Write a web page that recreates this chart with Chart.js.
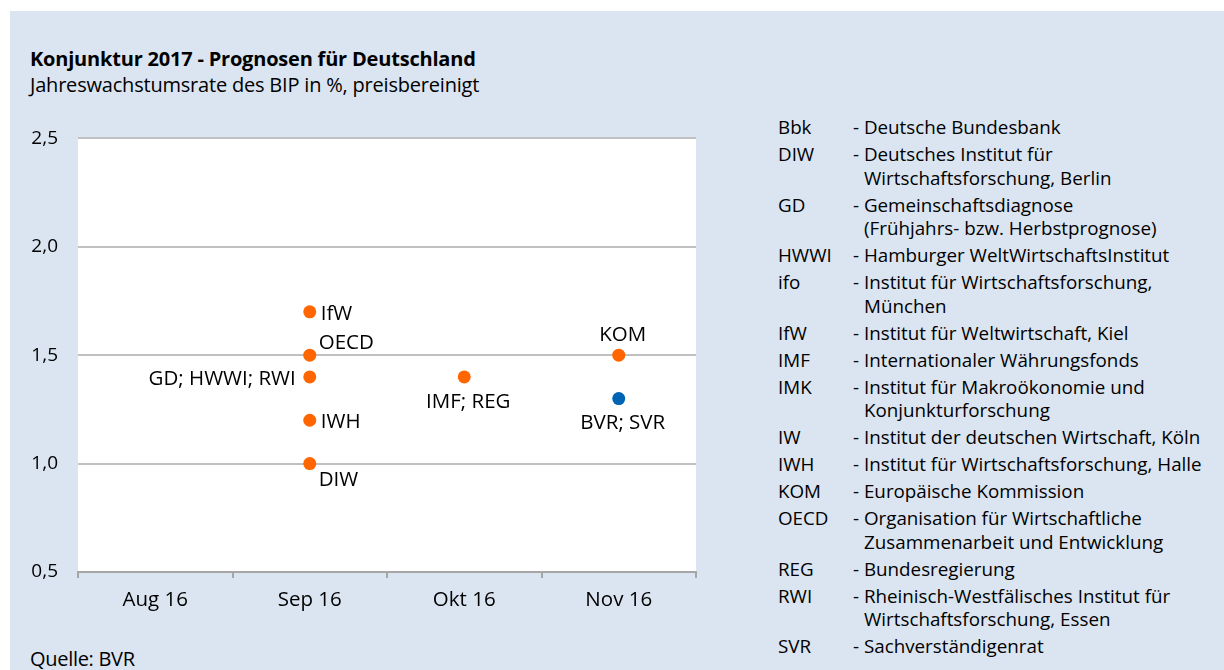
<!DOCTYPE html>
<html>
<head>
<meta charset="utf-8">
<script src="https://cdn.jsdelivr.net/npm/chart.js@4"></script>
<style>
  body { margin: 0; background: #fff; width: 1224px; height: 670px; overflow: hidden; font-family: "Open Sans", sans-serif; color: #000; }
  #panel { position: absolute; left: 10px; top: 11px; width: 1214px; height: 659px; background: #dbe5f1; }
  #title { position: absolute; left: 30px; top: 45px; font-size: 20px; font-weight: bold; letter-spacing: -0.2px; }
  #subtitle { position: absolute; left: 30px; top: 71px; font-size: 20px; letter-spacing: -0.2px; }
  #source { position: absolute; left: 30px; top: 645px; font-size: 20px; letter-spacing: -0.3px; }
  #chart { position: absolute; left: 10px; top: 107px; }
  #legend { position: absolute; left: 778px; top: 116px; font-size: 18.8px; line-height: 23.5px; }
  #legend .row { display: flex; margin-bottom: 3.5px; }
  #legend .abbr { width: 75px; }
  #legend .desc { width: 380px; padding-left: 11px; text-indent: -11px; }
</style>
</head>
<body>
<div id="panel"></div>
<div id="title">Konjunktur 2017 - Prognosen für Deutschland</div>
<div id="subtitle">Jahreswachstumsrate des BIP in %, preisbereinigt</div>
<canvas id="chart" width="710" height="513"></canvas>
<div id="legend"></div>
<div id="source">Quelle: BVR</div>
<script>
// x categories and y ticks
const months = ['Aug 16', 'Sep 16', 'Okt 16', 'Nov 16'];
const yTicks = [0.5, 1.0, 1.5, 2.0, 2.5];

// orange forecasts
const orangeMonths = ['Sep 16', 'Sep 16', 'Sep 16', 'Sep 16', 'Sep 16', 'Okt 16', 'Nov 16'];
const orangeValues = [1.7, 1.5, 1.4, 1.2, 1.0, 1.4, 1.5];
const orangeNames = ['IfW', 'OECD', 'GD; HWWI; RWI', 'IWH', 'DIW', 'IMF; REG', 'KOM'];
const orangePlace = ['right', 'aboveRight', 'left', 'right', 'belowRight', 'below', 'above'];

// blue forecast (BVR)
const blueMonths = ['Nov 16'];
const blueValues = [1.3];
const blueNames = ['BVR; SVR'];
const bluePlace = ['below'];

// abbreviations on the right
const legendAbbr = ['Bbk', 'DIW', 'GD', 'HWWI', 'ifo', 'IfW', 'IMF', 'IMK', 'IW', 'IWH', 'KOM', 'OECD', 'REG', 'RWI', 'SVR'];
const legendText = [
    '- Deutsche Bundesbank',
    '- Deutsches Institut für<br>Wirtschaftsforschung, Berlin',
    '- Gemeinschaftsdiagnose<br>(Frühjahrs- bzw. Herbstprognose)',
    '- Hamburger WeltWirtschaftsInstitut',
    '- Institut für Wirtschaftsforschung,<br>München',
    '- Institut für Weltwirtschaft, Kiel',
    '- Internationaler Währungsfonds',
    '- Institut für Makroökonomie und<br>Konjunkturforschung',
    '- Institut der deutschen Wirtschaft, Köln',
    '- Institut für Wirtschaftsforschung, Halle',
    '- Europäische Kommission',
    '- Organisation für Wirtschaftliche<br>Zusammenarbeit und Entwicklung',
    '- Bundesregierung',
    '- Rheinisch-Westfälisches Institut für<br>Wirtschaftsforschung, Essen',
    '- Sachverständigenrat'
];

let html = '';
legendAbbr.forEach((a, i) => {
    html += `<div class="row"><div class="abbr">${a}</div><div class="desc">${legendText[i]}</div></div>`;
});
document.getElementById('legend').innerHTML = html;

const FONT = '"Open Sans", sans-serif';

// white plot area
const plotBg = {
    id: 'plotBg',
    beforeDraw(chart) {
        const a = chart.chartArea;
        chart.ctx.save();
        chart.ctx.fillStyle = '#fff';
        chart.ctx.fillRect(a.left, a.top, a.right - a.left, a.bottom - a.top);
        chart.ctx.restore();
    }
};

// point labels, placed around each marker
const pointLabels = {
    id: 'pointLabels',
    afterDatasetsDraw(chart) {
        const ctx = chart.ctx;
        ctx.save();
        ctx.font = '20.5px ' + FONT;
        ctx.fillStyle = '#000';
        ctx.textBaseline = 'middle';
        chart.data.datasets.forEach((ds, di) => {
            const meta = chart.getDatasetMeta(di);
            meta.data.forEach((pt, i) => {
                const name = ds.names[i];
                const place = ds.places[i];
                let x = pt.x, y = pt.y;
                if (place === 'right') { ctx.textAlign = 'left'; x += 11; y += 2; }
                else if (place === 'aboveRight') { ctx.textAlign = 'left'; x += 9; y -= 12; }
                else if (place === 'left') { ctx.textAlign = 'right'; x -= 14; y += 2; }
                else if (place === 'belowRight') { ctx.textAlign = 'left'; x += 9; y += 17; }
                else if (place === 'below') { ctx.textAlign = 'center'; x += 4; y += 25; }
                else if (place === 'above') { ctx.textAlign = 'center'; x += 4; y -= 20; }
                ctx.fillText(name, x, y);
            });
        });
        ctx.restore();
    }
};

const toPoints = (ms, vs) => ms.map((m, i) => ({ x: m, y: vs[i] }));

new Chart(document.getElementById('chart'), {
    type: 'scatter',
    data: {
        labels: months,
        datasets: [
            {
                data: toPoints(orangeMonths, orangeValues),
                names: orangeNames,
                places: orangePlace,
                backgroundColor: '#ff6600',
                borderWidth: 0,
                pointRadius: 6.5
            },
            {
                data: toPoints(blueMonths, blueValues),
                names: blueNames,
                places: bluePlace,
                backgroundColor: '#0064b4',
                borderWidth: 0,
                pointRadius: 6.5
            }
        ]
    },
    options: {
        responsive: false,
        animation: false,
        layout: { padding: { top: 6, right: 24, left: 0, bottom: 0 } },
        plugins: { legend: { display: false }, tooltip: { enabled: false } },
        scales: {
            x: {
                type: 'category',
                labels: months,
                offset: true,
                grid: { offset: true, drawOnChartArea: false, drawTicks: true, tickLength: 6, color: '#a6a6a6', lineWidth: 2 },
                border: { color: '#a6a6a6', width: 2 },
                ticks: { color: '#000', font: { family: FONT, size: 20.5 }, padding: 10 },
                afterFit(scale) { scale.height = 48; }
            },
            y: {
                min: 0.5,
                max: 2.5,
                afterBuildTicks(scale) { scale.ticks = yTicks.map(v => ({ value: v })); },
                grid: { color: '#c0c0c0', lineWidth: 2, drawTicks: false },
                border: { display: false },
                ticks: {
                    color: '#000',
                    font: { family: FONT, size: 19 },
                    padding: 20,
                    callback: v => v.toFixed(1).replace('.', ',')
                },
                afterFit(scale) { scale.width = 68; }
            }
        }
    },
    plugins: [plotBg, pointLabels]
});
</script>
</body>
</html>
